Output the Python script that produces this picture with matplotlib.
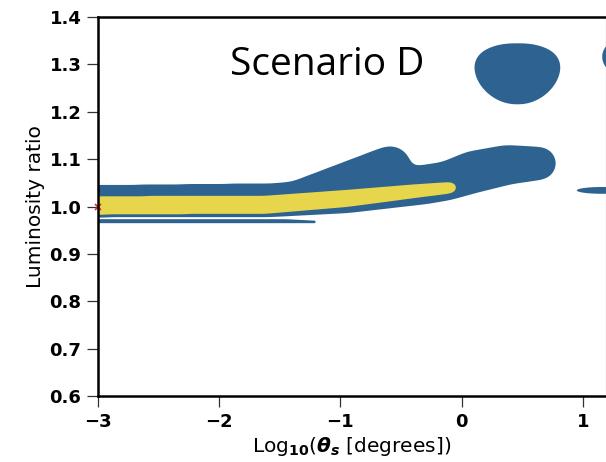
import numpy as np
import matplotlib
matplotlib.use("Agg")
import matplotlib.pyplot as plt

# ---- posterior credible regions: Scenario D ----
# Tubes are polylines of (log10 theta_s, luminosity ratio, half-width in ratio units)
band_x = [-3.6, -1.55, -0.95, -0.30, -0.12, 0.09, 0.375, 0.645]
band_y = [1.010, 1.0135, 1.024, 1.0465, 1.054, 1.0725, 1.088, 1.091]
band_r = [0.0335, 0.0355, 0.038, 0.0415, 0.041, 0.0445, 0.042, 0.035]

bump_x = [-1.35, -0.59]
bump_y = [1.020, 1.083]
bump_r = [0.035, 0.045]

sliver_x = [-3.6, -1.45, -1.215]
sliver_y = [0.969, 0.969, 0.9675]
sliver_r = [0.0042, 0.0042, 0.0027]

core_x = [-3.6, -1.6, -0.95, -0.40, -0.08]
core_y = [1.0015, 1.004, 1.017, 1.032, 1.040]
core_r = [0.0195, 0.019, 0.018, 0.0145, 0.012]

# upper mode, an egg shape: centre, radii, top-heavy skew, superellipse power
egg_cx, egg_cy = 0.46, 1.280
egg_rx, egg_ry = 0.35, 0.065
egg_skew, egg_power = 0.2, 2.15

# small isolated modes near the right edge
blob_cx = [1.31, 1.16]
blob_cy = [1.316, 1.034]
blob_rx = [0.15, 0.21]
blob_ry = [0.036, 0.0072]

truth_x = [-3.0]
truth_y = [1.0]

x_ticks = [-3, -2, -1, 0, 1]
y_ticks = [0.6, 0.7, 0.8, 0.9, 1.0, 1.1, 1.2, 1.3, 1.4]

BLUE = "#2e6391"
YELLOW = "#e7d64b"
PX_X = 121.2   # pixels per unit of log10 theta_s
PX_Y = 474.0   # pixels per unit of luminosity ratio
YS = PX_Y / PX_X


def tube_q(X, Y, px, py, pr):
    Yp = Y * YS
    q = np.full(X.shape, np.inf)
    for i in range(len(px) - 1):
        ax_, ay_ = px[i], py[i] * YS
        bx_, by_ = px[i + 1], py[i + 1] * YS
        ra, rb = pr[i] * YS, pr[i + 1] * YS
        dx, dy = bx_ - ax_, by_ - ay_
        t = np.clip(((X - ax_) * dx + (Yp - ay_) * dy) / (dx * dx + dy * dy), 0, 1)
        d = np.hypot(X - ax_ - t * dx, Yp - ay_ - t * dy)
        q = np.minimum(q, d / (ra + t * (rb - ra)))
    return q


def egg_q(X, Y):
    v = (Y - egg_cy) / egg_ry
    u = (X - egg_cx) / egg_rx / np.clip(1 + egg_skew * v, 0.2, None)
    return (np.abs(u) ** egg_power + np.abs(v) ** egg_power) ** (1 / egg_power)


def gauss_matrix(g, sigma):
    m = np.exp(-0.5 * ((g[:, None] - g[None, :]) / sigma) ** 2)
    return m / m.sum(axis=1, keepdims=True)


def smooth(mask, sigma_px):
    gy = gauss_matrix(yg, sigma_px / PX_Y)
    gx = gauss_matrix(xg, sigma_px / PX_X)
    return gy @ mask @ gx.T


xg = np.arange(-3.35, 1.30, 0.005)
yg = np.arange(0.93, 1.38, 0.001)
X, Y = np.meshgrid(xg, yg)

# outer (blue) region: smoothed union of the large shapes, plus thin features
q_big = np.minimum.reduce([
    tube_q(X, Y, band_x, band_y, band_r),
    tube_q(X, Y, bump_x, bump_y, bump_r),
    egg_q(X, Y),
])
outer = smooth((q_big <= 1).astype(float), 5.0) - 0.5
outer = np.maximum(outer, 1 - tube_q(X, Y, sliver_x, sliver_y, sliver_r))
for cx, cy, rx, ry in zip(blob_cx, blob_cy, blob_rx, blob_ry):
    outer = np.maximum(outer, 1 - np.hypot((X - cx) / rx, (Y - cy) / ry))

# inner (yellow) region
inner = smooth((tube_q(X, Y, core_x, core_y, core_r) <= 1).astype(float), 4.0) - 0.5

fig = plt.figure(figsize=(6.06, 4.62), dpi=100)
ax = fig.add_axes([98 / 606, 66 / 462, 507.5 / 606, 379 / 462])

ax.contourf(X, Y, outer, levels=[0.0, 1e9], colors=[BLUE], antialiased=True, zorder=1)
ax.contourf(X, Y, inner, levels=[0.0, 1e9], colors=[YELLOW], antialiased=True, zorder=1.2)
ax.plot(truth_x, truth_y, "x", color="#e0301e", ms=4.5, mew=1.2, clip_on=False, zorder=2)

ax.set_xlim(-3, 1.187)
ax.set_ylim(0.6, 1.4)
ax.set_xticks(x_ticks)
ax.set_yticks(y_ticks)
ax.set_xticklabels(["\u22123", "\u22122", "\u22121", "0", "1"])
ax.set_yticklabels([f"{v:.1f}" for v in y_ticks])
for lab in ax.get_xticklabels() + ax.get_yticklabels():
    lab.set_fontweight("bold")
    lab.set_fontsize(13)
ax.tick_params(direction="out", length=8, width=0.9, color="#333333", pad=4)

for side in ("left", "bottom", "top"):
    ax.spines[side].set_linewidth(1.8)
    ax.spines[side].set_color("black")
ax.spines["right"].set_linewidth(0.8)
ax.spines["right"].set_color("#888888")

ax.set_ylabel("Luminosity ratio", fontsize=14.5, labelpad=3)
xlab = ax.set_xlabel(r"Log$_{\mathbf{10}}$($\mathbfit{\theta}_{\mathbfit{s}}$ [degrees])",
                     fontsize=14.5, labelpad=3)
try:
    fig.canvas.draw()
except Exception:
    xlab.set_text(r"Log$_{\mathbf{10}}$($\mathbf{\theta_s}$ [degrees])")

ax.text(0.452, 0.847, "Scenario D", transform=ax.transAxes, ha="center",
        va="baseline", fontsize=28, family="Open Sans", color="black")

fig.savefig("out.png", dpi=100)
